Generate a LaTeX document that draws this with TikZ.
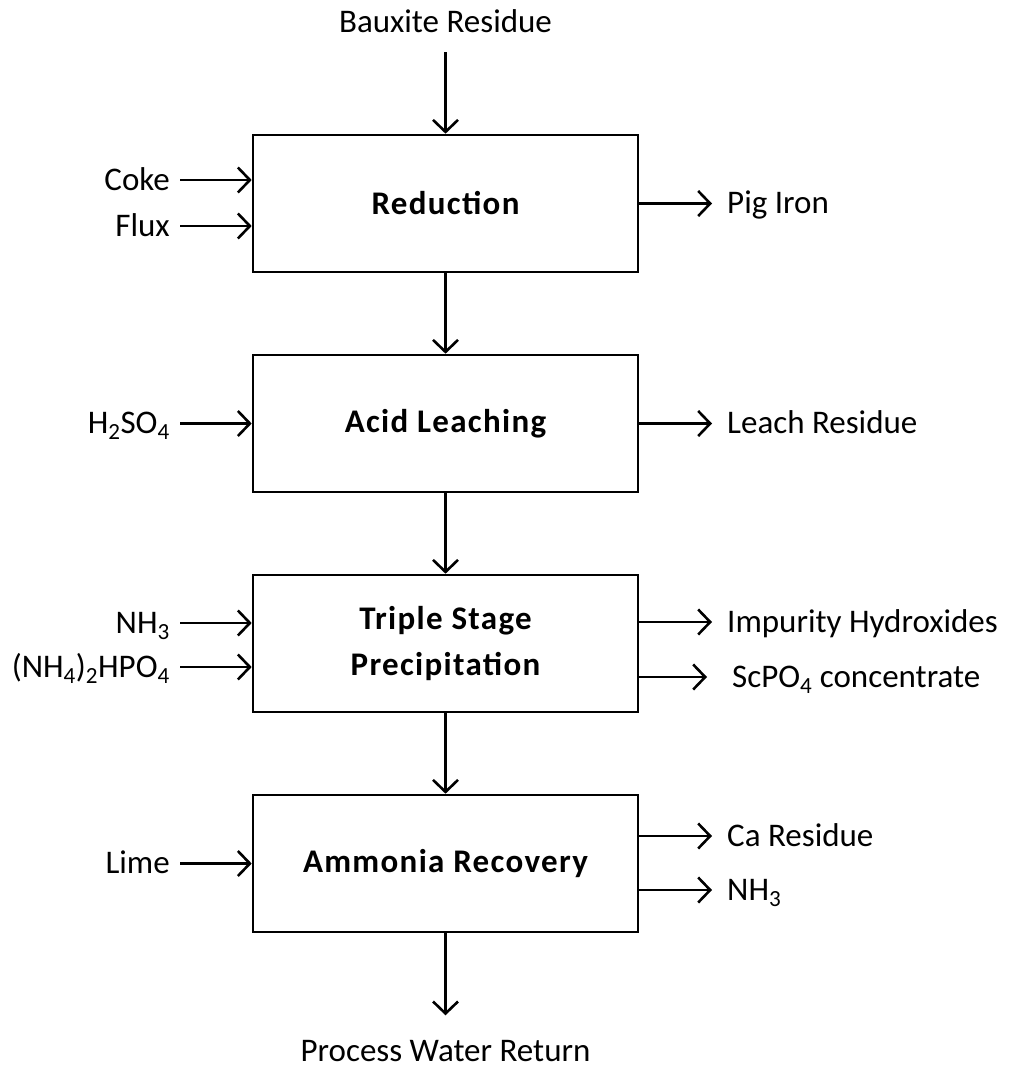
\documentclass[tikz,border=0pt]{standalone}
\usepackage{fontspec}
\setmainfont{Carlito}
\usetikzlibrary{arrows.meta}
\tikzset{
  process/.style={draw, line width=2.6pt, minimum width=385pt, minimum height=137pt,
    inner sep=0pt, align=center, font=\fontsize{33}{46}\selectfont\bfseries\addfontfeature{LetterSpace=4}},
  lbl/.style={inner sep=0pt, text height=26pt, text depth=6pt, font=\fontsize{33}{39}\selectfont},
  inlbl/.style={lbl, anchor=east, inner xsep=10pt},
  outlbl/.style={lbl, anchor=west, inner xsep=15pt},
  flow/.style={line width=2.6pt, -{Straight Barb[length=12pt,width=25pt,line width=2.6pt]}}
}
\begin{document}
\begin{tikzpicture}[x=1pt,y=-1pt]
\useasboundingbox (0,0) rectangle (1009,1068);

% process units
\node[process] (red) at (445.5,203.5) {Reduction};
\node[process] (acid) at (445.5,423.5) {Acid Leaching};
\node[process] (prec) at (445.5,643.5) {Triple Stage\\Precipitation};
\node[process] (amm) at (445.5,863.5) {Ammonia Recovery};

% feed and product labels
\node[lbl, inner ysep=14pt] (baux) at (445.5,22) {Bauxite Residue};
\node[lbl, text depth=1pt] (water) at (445.5,1049) {Process Water Return};

\node[inlbl] (coke) at (180,180) {Coke};
\node[inlbl] (flux) at (180,226) {Flux};
\node[inlbl] (acidin) at (180,423.5) {H\textsubscript{2}SO\textsubscript{4}};
\node[inlbl] (nh3in) at (180,623) {NH\textsubscript{3}};
\node[inlbl] (dap) at (180,667) {(NH\textsubscript{4})\textsubscript{2}HPO\textsubscript{4}};
\node[inlbl] (lime) at (180,863.5) {Lime};

\node[outlbl] (pig) at (712,203.5) {Pig Iron};
\node[outlbl] (leach) at (712,423.5) {Leach Residue};
\node[outlbl] (hydr) at (712,622) {Impurity Hydroxides};
\node[outlbl, inner xsep=20pt] (scpo) at (712,677) {ScPO\textsubscript{4} concentrate};
\node[outlbl] (cares) at (712,836) {Ca Residue};
\node[outlbl] (nh3out) at (712,890) {NH\textsubscript{3}};

% main line
\draw[flow] (baux.south) -- (red.north);
\draw[flow] (red.south) -- (acid.north);
\draw[flow] (acid.south) -- (prec.north);
\draw[flow] (prec.south) -- (amm.north);
\draw[flow] (amm.south) -- ([yshift=20pt]water.north);

% side feeds
\draw[flow] (coke.east) -- (coke.east -| red.west);
\draw[flow] (flux.east) -- (flux.east -| red.west);
\draw[flow] (acidin.east) -- (acidin.east -| acid.west);
\draw[flow] (nh3in.east) -- (nh3in.east -| prec.west);
\draw[flow] (dap.east) -- (dap.east -| prec.west);
\draw[flow] (lime.east) -- (lime.east -| amm.west);

% side products
\draw[flow] (pig.west -| red.east) -- (pig.west);
\draw[flow] (leach.west -| acid.east) -- (leach.west);
\draw[flow] (hydr.west -| prec.east) -- (hydr.west);
\draw[flow] (scpo.west -| prec.east) -- ([xshift=-5pt]scpo.west);
\draw[flow] (cares.west -| amm.east) -- (cares.west);
\draw[flow] (nh3out.west -| amm.east) -- (nh3out.west);
\end{tikzpicture}
\end{document}
